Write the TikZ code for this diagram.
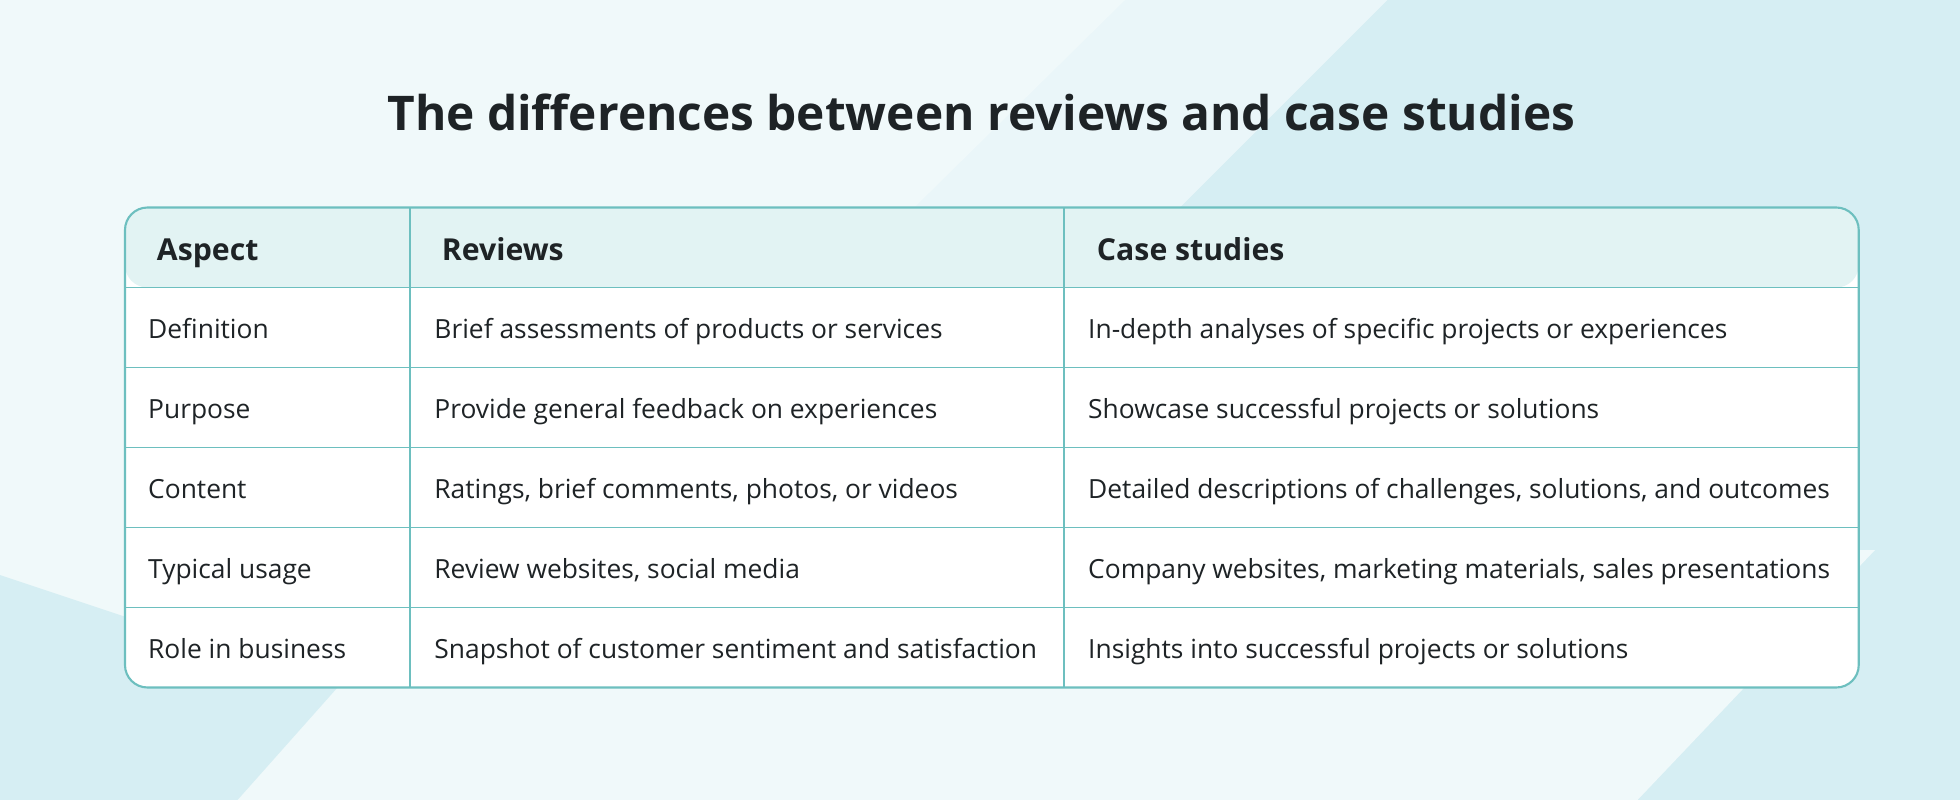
\documentclass[tikz,border=0pt]{standalone}
\usepackage{fontspec}
\setmainfont{Open Sans}[BoldFont={Open Sans Bold}]
\usepackage{tikz}
\usetikzlibrary{positioning}
\definecolor{bgbase}{HTML}{EAF6F9}
\definecolor{bgdark}{HTML}{D6EEF3}
\definecolor{bglight}{HTML}{F0F9FA}
\definecolor{gridline}{HTML}{6DBFBF}
\definecolor{headfill}{HTML}{E2F3F3}
\definecolor{ink}{HTML}{1E2326}
\tikzset{
  cell/.style={anchor=west,inner sep=0pt,text height=1.6ex,text depth=0.4ex,text=ink,font=\fontsize{7.5}{9}\selectfont},
  head/.style={anchor=west,inner sep=0pt,text height=1.6ex,text depth=0.4ex,text=ink,font=\fontsize{8.6}{10}\selectfont\bfseries},
}
\begin{document}
\begin{tikzpicture}[x=0.0125cm,y=-0.0125cm]
\useasboundingbox (0,0) rectangle (1568,640);
% background
\fill[bgbase] (0,0) rectangle (1568,640);
\fill[bglight] (0,0) -- (900,0) -- (250,640) -- (0,640) -- cycle;
\fill[bgdark] (1110,0) -- (1568,0) -- (1568,640) -- (470,640) -- cycle;
\fill[bglight] (190,640) -- (400,440) -- (1500,440) -- (1310,640) -- cycle;
\fill[bgdark] (0,460) -- (270,550) -- (190,640) -- (0,640) -- cycle;
% title
\node[text=ink,font=\fontsize{13.6}{16}\selectfont\bfseries] (title) at (785,90) {The differences between reviews and case studies};
% table
\fill[white,rounded corners=6.4pt] (100,166) rectangle (1487,550);
\fill[headfill,rounded corners=6.4pt] (100,230) -- (100,166) -- (1487,166) -- (1487,230) -- cycle;
\foreach \y in {230,294,358,422,486}
  \draw[gridline,line width=0.5pt] (100,\y) -- (1487,\y);
\draw[gridline,line width=0.5pt] (328,166) -- (328,550);
\draw[gridline,line width=0.5pt] (851,166) -- (851,550);
\draw[gridline,line width=0.6pt,rounded corners=6.4pt] (100,166) rectangle (1487,550);
\node[head] (hAspect) at (125,199) {Aspect};
\node[head] (hReviews) at (353,199) {Reviews};
\node[head] (hCases) at (877,199) {Case studies};
\foreach \a/\r/\c [count=\i] in {
  Definition/Brief assessments of products or services/In-depth analyses of specific projects or experiences,
  Purpose/Provide general feedback on experiences/Showcase successful projects or solutions,
  Content/{Ratings, brief comments, photos, or videos}/{Detailed descriptions of challenges, solutions, and outcomes},
  Typical usage/{Review websites, social media}/{Company websites, marketing materials, sales presentations},
  Role in business/Snapshot of customer sentiment and satisfaction/Insights into successful projects or solutions}
{
  \node[cell] (a\i) at (118,198+64*\i) {\a};
  \node[cell] (r\i) at (347,198+64*\i) {\r};
  \node[cell] (c\i) at (870,198+64*\i) {\c};
}
\end{tikzpicture}
\end{document}
